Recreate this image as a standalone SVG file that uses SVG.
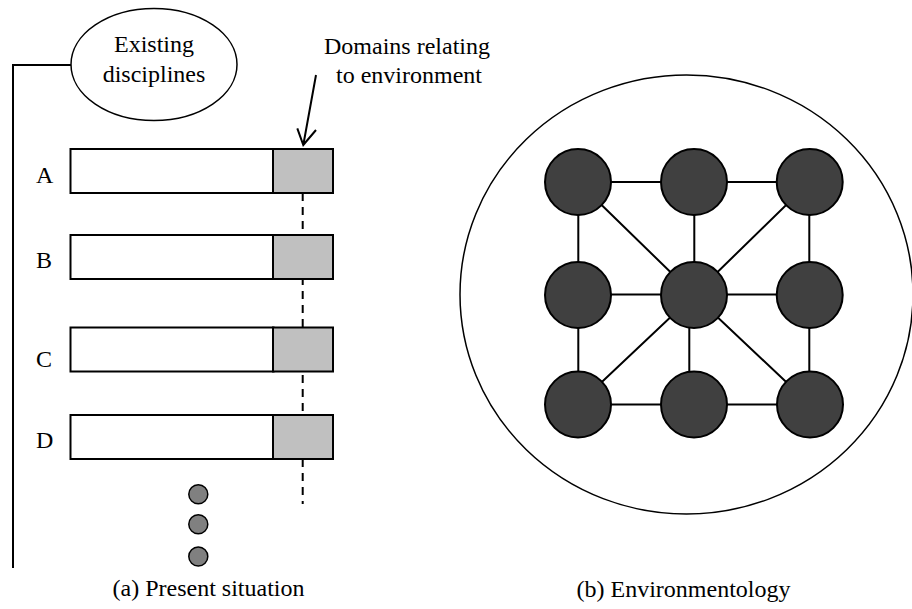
<svg xmlns="http://www.w3.org/2000/svg" width="912" height="609" viewBox="0 0 912 609" font-family="'Liberation Serif', 'DejaVu Serif', serif">
<style>
text{font-family:'Liberation Serif','DejaVu Serif',serif;font-size:24px;fill:#000}
.ln{stroke:#000;stroke-width:2;fill:none}
.bar{fill:#fff;stroke:#000;stroke-width:2}
.env{fill:#c0c0c0;stroke:#000;stroke-width:2}
.dot{fill:#808080;stroke:#000;stroke-width:1.5}
.node{fill:#404040;stroke:#000;stroke-width:2}
</style>
<g id="bracket"><path class="ln" d="M71,65 H13 V568"/></g>
<g id="existing">
<ellipse cx="154" cy="64.5" rx="83" ry="56" fill="#fff" stroke="#000" stroke-width="1.5"/>
<text x="154" y="52" text-anchor="middle" font-family="Liberation Serif, serif">Existing</text>
<text x="154" y="82" text-anchor="middle" font-family="Liberation Serif, serif">disciplines</text>
</g>
<g id="domains-label">
<text x="407" y="54" text-anchor="middle" font-family="Liberation Serif, serif">Domains relating</text>
<text x="409" y="83" text-anchor="middle" font-family="Liberation Serif, serif">to environment</text>
</g>
<g id="connectors">
<line x1="302.7" y1="193" x2="302.7" y2="504" stroke="#000" stroke-width="2" stroke-dasharray="8 6"/>
<path class="ln" d="M316,75 L303.3,145 M297.3,128.3 L303.3,145 L316,130"/>
</g>
<g id="row-A"><text x="36" y="183" font-family="Liberation Serif, serif">A</text><rect class="bar" x="70.5" y="149" width="203" height="44"/><rect class="env" x="273" y="149" width="60" height="44"/></g>
<g id="row-B"><text x="36" y="268" font-family="Liberation Serif, serif">B</text><rect class="bar" x="70.5" y="235" width="203" height="44"/><rect class="env" x="273" y="235" width="60" height="44"/></g>
<g id="row-C"><text x="36" y="367" font-family="Liberation Serif, serif">C</text><rect class="bar" x="70.5" y="327.5" width="203" height="44"/><rect class="env" x="273" y="327.5" width="60" height="44"/></g>
<g id="row-D"><text x="36" y="448" font-family="Liberation Serif, serif">D</text><rect class="bar" x="70.5" y="415" width="203" height="44"/><rect class="env" x="273" y="415" width="60" height="44"/></g>
<g id="ellipsis">
<circle class="dot" cx="198.3" cy="494.3" r="9.5"/>
<circle class="dot" cx="198.3" cy="524.3" r="9.5"/>
<circle class="dot" cx="198.3" cy="556.5" r="9.5"/>
</g>
<g id="caption-a"><text x="208.5" y="596" text-anchor="middle" font-family="Liberation Serif, serif">(a) Present situation</text></g>
<g id="environmentology">
<ellipse cx="686.5" cy="294.5" rx="226.5" ry="219.5" fill="none" stroke="#000" stroke-width="1.5"/>
</g>
<g id="network-links">
<path class="ln" d="M578,182 H810 M578,294.5 H810 M578,404.5 H810 M578.3,182 V404.5 M809.3,182 V404.5 M694.3,182 V295 M689.3,295 V404.5 M578,182 L694,295 L578,404.5 M809.7,182 L694,295 L810,404.5"/>
</g>
<g id="n11"><circle class="node" cx="578" cy="182" r="33"/></g>
<g id="n12"><circle class="node" cx="694" cy="182" r="33"/></g>
<g id="n13"><circle class="node" cx="809.7" cy="182" r="33"/></g>
<g id="n21"><circle class="node" cx="578" cy="295" r="33"/></g>
<g id="n22"><circle class="node" cx="694" cy="295" r="33"/></g>
<g id="n23"><circle class="node" cx="809.7" cy="295" r="33"/></g>
<g id="n31"><circle class="node" cx="578" cy="404.5" r="33"/></g>
<g id="n32"><circle class="node" cx="694" cy="404.5" r="33"/></g>
<g id="n33"><circle class="node" cx="810" cy="404.5" r="33"/></g>
<g id="caption-b"><text x="683.5" y="597" text-anchor="middle" font-family="Liberation Serif, serif">(b) Environmentology</text></g>
</svg>
